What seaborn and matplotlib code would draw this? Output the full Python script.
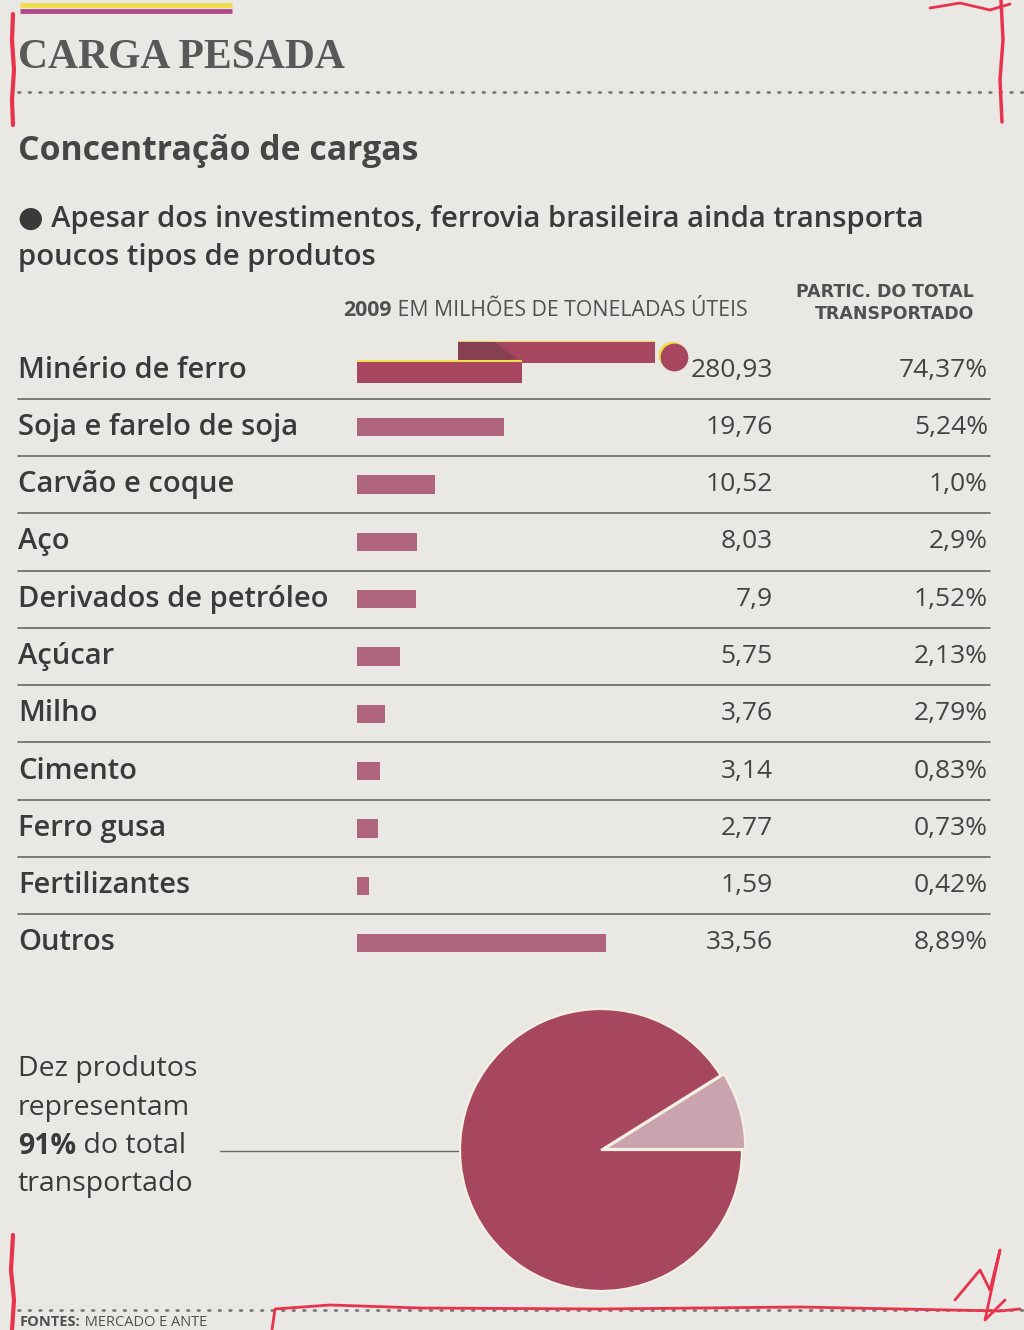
import numpy as np
import pandas as pd
import matplotlib.pyplot as plt
import seaborn as sns
from matplotlib.patches import Polygon

# --- data (2009, milhões de toneladas úteis) ---
categories = ["Minério de ferro", "Soja e farelo de soja", "Carvão e coque", "Aço",
              "Derivados de petróleo", "Açúcar", "Milho", "Cimento", "Ferro gusa",
              "Fertilizantes", "Outros"]
tonnes = [280.93, 19.76, 10.52, 8.03, 7.9, 5.75, 3.76, 3.14, 2.77, 1.59, 33.56]
tonnes_labels = ["280,93", "19,76", "10,52", "8,03", "7,9", "5,75", "3,76",
                 "3,14", "2,77", "1,59", "33,56"]
share_labels = ["74,37%", "5,24%", "1,0%", "2,9%", "1,52%", "2,13%", "2,79%",
                "0,83%", "0,73%", "0,42%", "8,89%"]
pie_labels = ["Outros", "Dez produtos"]
pie_shares = [8.89, 91.11]

# --- style ---
BG = "#e9e8e4"
DARK = "#a6465f"
BAR = "#b0657f"
LIGHT = "#c9a4ae"
TXT = "#3b393a"
YELLOW = "#efe04a"
RED = "#e8334d"

W, H = 1024, 1330
PX_PER_UNIT = 7.43          # horizontal scale of the bars
BAR_X0, BAR_X1 = 357, 1000  # pixel span of the bar axes
ROW0, ROW_STEP = 370, 57.3  # first row centre and row spacing (pixels)
X_MAX = (BAR_X1 - BAR_X0) / PX_PER_UNIT

sns.set_theme(style="white")
plt.rcParams["font.family"] = ["Open Sans", "DejaVu Sans"]

fig = plt.figure(figsize=(W / 100, H / 100), dpi=100, facecolor=BG)

# full-page axes in pixel coordinates for the text and rules
ax0 = fig.add_axes([0, 0, 1, 1])
ax0.set_xlim(0, W)
ax0.set_ylim(H, 0)
ax0.axis("off")
ax0.set_facecolor(BG)

# top colour rule
ax0.plot([20, 232], [5, 5], color=YELLOW, lw=3.5, solid_capstyle="butt")
ax0.plot([20, 232], [11, 11], color="#b24a8a", lw=3.5, solid_capstyle="butt")

ax0.text(18, 58, "CARGA PESADA", family=["Liberation Serif", "DejaVu Serif"],
         weight="bold", fontsize=30, color="#595757", va="center", ha="left")
ax0.plot([18, W], [92, 92], color="#7a7a7a", lw=2, ls=(0, (0.6, 3.2)),
         dash_capstyle="round")

ax0.text(18, 151, "Concentração de cargas", weight="bold", fontsize=24.4,
         color="#474546", va="center")
ax0.text(18, 219, "● Apesar dos investimentos, ferrovia brasileira ainda transporta",
         weight="semibold", fontsize=21.1, color=TXT, va="center")
ax0.text(18, 258, "poucos tipos de produtos", weight="semibold", fontsize=21.1,
         color=TXT, va="center")

# column headers
t09 = ax0.text(343, 311, "2009", weight="bold", fontsize=15.3, color="#505050",
               va="center")
ax0.annotate(" EM MILHÕES DE TONELADAS ÚTEIS", xy=(1, 0.5), xycoords=t09,
             va="center", ha="left", fontsize=15.3, color="#505050")
hdr_font = ["Liberation Sans Narrow", "DejaVu Sans"]
ax0.text(974, 292, "PARTIC. DO TOTAL", family=hdr_font, weight="bold",
         fontsize=12.5, color="#505050", ha="right", va="center")
ax0.text(974, 314, "TRANSPORTADO", family=hdr_font, weight="bold",
         fontsize=12.5, color="#505050", ha="right", va="center")

# rows: labels, values, shares, separators
for i, cat in enumerate(categories):
    y = ROW0 + ROW_STEP * i
    ax0.text(18, y, cat, weight="semibold", fontsize=21, color=TXT, va="center")
    ax0.text(773, y, tonnes_labels[i], fontsize=19, color="#444243",
             va="center", ha="right")
    ax0.text(988, y, share_labels[i], fontsize=19, color="#444243",
             va="center", ha="right")
    if i < len(categories) - 1:
        ys = y + ROW_STEP / 2
        ax0.plot([18, 990], [ys, ys], color="#5c5c5c", lw=1.1)

# pie caption and leader line
CAP = 20.5
for k, line in enumerate(["Dez produtos", "representam"]):
    ax0.text(18, 1069 + 38.5 * k, line, fontsize=CAP, color=TXT, va="center")
t91 = ax0.text(18, 1146, "91%", weight="bold", fontsize=CAP, color=TXT,
               va="center")
ax0.annotate(" do total", xy=(1, 0.5), xycoords=t91, va="center", ha="left",
             fontsize=CAP, color=TXT)
ax0.text(18, 1184, "transportado", fontsize=CAP, color=TXT, va="center")
ax0.plot([220, 600], [1151, 1151], color="#6a6a6a", lw=1)

# footer
ax0.plot([18, W], [1310, 1310], color="#7a7a7a", lw=2, ls=(0, (0.6, 3.2)),
         dash_capstyle="round")
tf = ax0.text(20, 1315, "FONTES:", weight="bold", fontsize=10.5, color="#505050",
              va="top")
ax0.annotate(" MERCADO E ANTE", xy=(1, 1), xycoords=tf, va="top", ha="left",
             fontsize=10.5, color="#505050")

# red pen marks from the scan
ax0.plot([13, 12, 14, 12, 13], [14, 40, 70, 100, 125], color=RED, lw=3)
ax0.plot([1001, 1003, 1000, 1002], [0, 40, 80, 122], color=RED, lw=2.5)
ax0.plot([930, 960, 990, 1010], [8, 3, 10, 4], color=RED, lw=2)
ax0.plot([13, 11, 14, 12], [1235, 1270, 1300, 1330], color=RED, lw=3)
ax0.plot([272, 275, 330, 420, 600, 800, 1000, 1020],
         [1330, 1309, 1305, 1308, 1309, 1307, 1311, 1309], color=RED, lw=2)
ax0.plot([955, 980, 990, 1000, 985, 1005], [1300, 1270, 1290, 1250, 1320, 1300],
         color=RED, lw=2)

# --- bar axes (data scale) ---
n = len(categories)
top_px = ROW0 - ROW_STEP / 2
bot_px = ROW0 + ROW_STEP * (n - 1) + ROW_STEP / 2
axb = fig.add_axes([BAR_X0 / W, 1 - bot_px / H, (BAR_X1 - BAR_X0) / W,
                    (bot_px - top_px) / H])
axb.patch.set_alpha(0)

df = pd.DataFrame({"produto": categories, "milhoes_t": tonnes})
# the iron ore bar does not fit the scale; it is drawn broken below
df["shown"] = df["milhoes_t"].where(df["milhoes_t"] <= X_MAX, 0)
sns.barplot(data=df, x="shown", y="produto", order=categories, orient="h",
            color=BAR, width=0.32, saturation=1, linewidth=0, ax=axb)

# broken bar for Minério de ferro (280,93)
BREAK_LOW_END = 22.2
BREAK_HIGH_START, BREAK_HIGH_END = 13.6, 40.1
seg_h = 0.37
axb.barh(-0.305 - 0.04, BREAK_HIGH_END - BREAK_HIGH_START, left=BREAK_HIGH_START,
         height=seg_h, color=YELLOW, lw=0, zorder=2)
axb.barh(-0.305, BREAK_HIGH_END - BREAK_HIGH_START, left=BREAK_HIGH_START,
         height=seg_h, color=DARK, lw=0, zorder=3)
axb.add_patch(Polygon([(BREAK_HIGH_START, -0.49), (BREAK_HIGH_START, -0.12),
                       (17.0, -0.12), (21.5, -0.2), (18.5, -0.49)],
                      closed=True, color="#6e3c4a", alpha=0.55, zorder=4, lw=0))
axb.barh(0.045 - 0.04, BREAK_LOW_END, height=seg_h, color=YELLOW, lw=0, zorder=4)
axb.barh(0.045, BREAK_LOW_END, height=seg_h, color=DARK, lw=0, zorder=5)
axb.plot(42.4, -0.27, "o", ms=20, color=YELLOW, mec="none", zorder=5)
axb.plot(42.6, -0.23, "o", ms=20, color=DARK, mec="none", zorder=6)

axb.set_xlim(0, X_MAX)
axb.set_ylim(n - 0.5, -0.5)
axb.axis("off")

# --- pie ---
R = 141
cx, cy = 601, 1150
axp = fig.add_axes([(cx - R) / W, 1 - (cy + R) / H, 2 * R / W, 2 * R / H])
wedges, _ = axp.pie(pie_shares, colors=[LIGHT, DARK], startangle=0,
                    counterclock=True, explode=[0.025, 0],
                    wedgeprops=dict(linewidth=1.6, edgecolor="#f4f0e2"))
for w in wedges:
    w.set_clip_on(False)
axp.set_xlim(-1, 1)
axp.set_ylim(-1, 1)
axp.patch.set_alpha(0)

fig.savefig("out.png", dpi=100, facecolor=BG)
